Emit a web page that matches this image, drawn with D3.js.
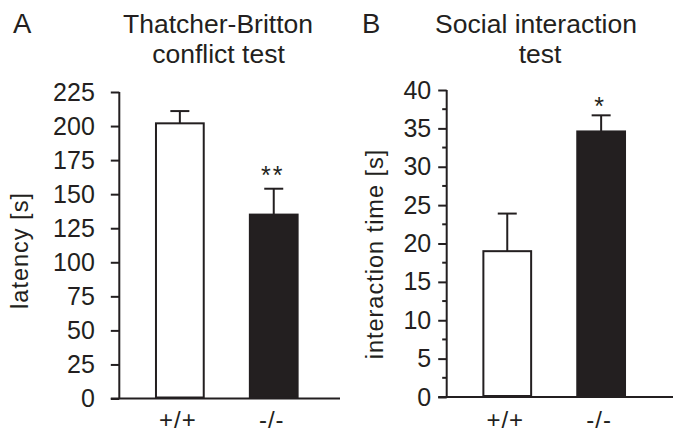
<!DOCTYPE html>
<html>
<head>
<meta charset="utf-8">
<script src="https://cdn.jsdelivr.net/npm/d3@7"></script>
<style>
  html, body { margin: 0; padding: 0; background: #fff; }
  svg { display: block; }
  text { font-family: "Liberation Sans", Arial, Helvetica, sans-serif; fill: #231f20; }
</style>
</head>
<body>
<svg id="chart" width="673" height="432"></svg>
<script>
// ---- data ----
const genotypes = ["+/+", "-/-"];
const latencyMeans = [202, 135];
const latencyErrors = [9, 19];
const latencyTicks = [0, 25, 50, 75, 100, 125, 150, 175, 200, 225];
const latencySig = ["", "**"];

const interactionMeans = [19, 34.6];
const interactionErrors = [4.9, 2.1];
const interactionTicks = [0, 5, 10, 15, 20, 25, 30, 35, 40];
const interactionMinorTicks = [2.5, 7.5, 12.5, 17.5, 22.5, 27.5, 32.5, 37.5];
const interactionSig = ["", "*"];

const fills = ["#ffffff", "#231f20"];
const ink = "#231f20";

const svg = d3.select("#chart");

function panel(cfg) {
  const g = svg.append("g");
  const x = d3.scaleBand().domain(genotypes)
    .range([cfg.axisX, cfg.axisX + 215]).paddingInner(0.47).paddingOuter(0.38);
  const y = d3.scaleLinear().domain(cfg.domain).range([cfg.y0, cfg.y1]);

  // y axis
  const yAxis = d3.axisLeft(y).tickValues(cfg.ticks).tickSize(8.5).tickPadding(cfg.tickPad)
    .tickFormat(d3.format("d"));
  const ya = g.append("g").attr("transform", `translate(${cfg.axisX},0)`).call(yAxis);
  ya.select(".domain").attr("stroke", ink).attr("stroke-width", 2).attr("d", `M0,${cfg.y1}V${cfg.y0}`);
  ya.selectAll(".tick line").attr("stroke", ink).attr("stroke-width", 2);
  ya.selectAll(".tick text").attr("font-size", 25).attr("fill", ink)
    .attr("font-family", '"Liberation Sans", Arial, sans-serif');
  if (cfg.minor) {
    g.append("g").selectAll("line").data(cfg.minor).join("line")
      .attr("x1", cfg.axisX - 4.5).attr("x2", cfg.axisX)
      .attr("y1", d => y(d)).attr("y2", d => y(d))
      .attr("stroke", ink).attr("stroke-width", 2);
  }

  // x axis baseline
  g.append("line").attr("x1", cfg.axisX - 8.5).attr("x2", cfg.xEnd)
    .attr("y1", y(0)).attr("y2", y(0)).attr("stroke", ink).attr("stroke-width", 2.2);

  // x labels
  g.append("g").selectAll("text").data(genotypes).join("text")
    .attr("x", d => x(d) + x.bandwidth() / 2 - 2).attr("y", 428)
    .attr("text-anchor", "middle").attr("font-size", 24).attr("letter-spacing", 1).text(d => d);

  const bw = x.bandwidth();
  // error bars
  const eg = g.append("g");
  genotypes.forEach((d, i) => {
    const cx = x(d) + bw / 2;
    const top = y(cfg.means[i] + cfg.errors[i]);
    eg.append("line").attr("x1", cx).attr("x2", cx).attr("y1", y(cfg.means[i])).attr("y2", top)
      .attr("stroke", ink).attr("stroke-width", 2);
    eg.append("line").attr("x1", cx - 9.5).attr("x2", cx + 9.5).attr("y1", top).attr("y2", top)
      .attr("stroke", ink).attr("stroke-width", 2);
  });

  // bars
  g.append("g").selectAll("rect").data(genotypes).join("rect")
    .attr("x", d => x(d) + 1).attr("width", bw - 2)
    .attr("y", (d, i) => y(cfg.means[i]))
    .attr("height", (d, i) => y(0) - y(cfg.means[i]) - 1)
    .attr("fill", (d, i) => fills[i]).attr("stroke", ink).attr("stroke-width", 2);

  // significance
  g.append("g").selectAll("text").data(genotypes).join("text")
    .attr("x", d => x(d) + bw / 2 - 1)
    .attr("y", (d, i) => y(cfg.means[i] + cfg.errors[i]) - cfg.sigGap)
    .attr("text-anchor", "middle").attr("font-size", 25).attr("letter-spacing", 2)
    .text((d, i) => cfg.sig[i]);

  // y title
  g.append("text")
    .attr("transform", `translate(${cfg.titleX},${cfg.titleY}) rotate(-90)`)
    .attr("text-anchor", "middle").attr("font-size", 23.5).attr("letter-spacing", 1)
    .text(cfg.yTitle);

  // panel title
  cfg.title.forEach((t, i) => {
    g.append("text").attr("x", cfg.titleCx[i]).attr("y", 33 + i * 29.5)
      .attr("text-anchor", "middle").attr("font-size", 26.5).text(t);
  });
  g.append("text").attr("x", cfg.letterX).attr("y", 33).attr("font-size", 27.5).text(cfg.letter);
}

panel({
  axisX: 119.3, y0: 398.5, y1: 92, domain: [0, 225], ticks: latencyTicks, tickPad: 16,
  xEnd: 340, means: latencyMeans, errors: latencyErrors, sig: latencySig, sigGap: 5,
  yTitle: "latency [s]", titleX: 27.5, titleY: 250.5,
  title: ["Thatcher-Britton", "conflict test"], titleCx: [218, 218.5],
  letter: "A", letterX: 13
});

panel({
  axisX: 446.7, y0: 397, y1: 90, domain: [0, 40], ticks: interactionTicks, minor: interactionMinorTicks, tickPad: 7,
  xEnd: 673, means: interactionMeans, errors: interactionErrors, sig: interactionSig, sigGap: 0,
  yTitle: "interaction time [s]", titleX: 382.5, titleY: 254,
  title: ["Social interaction", "test"], titleCx: [536, 540],
  letter: "B", letterX: 362
});
</script>
</body>
</html>
